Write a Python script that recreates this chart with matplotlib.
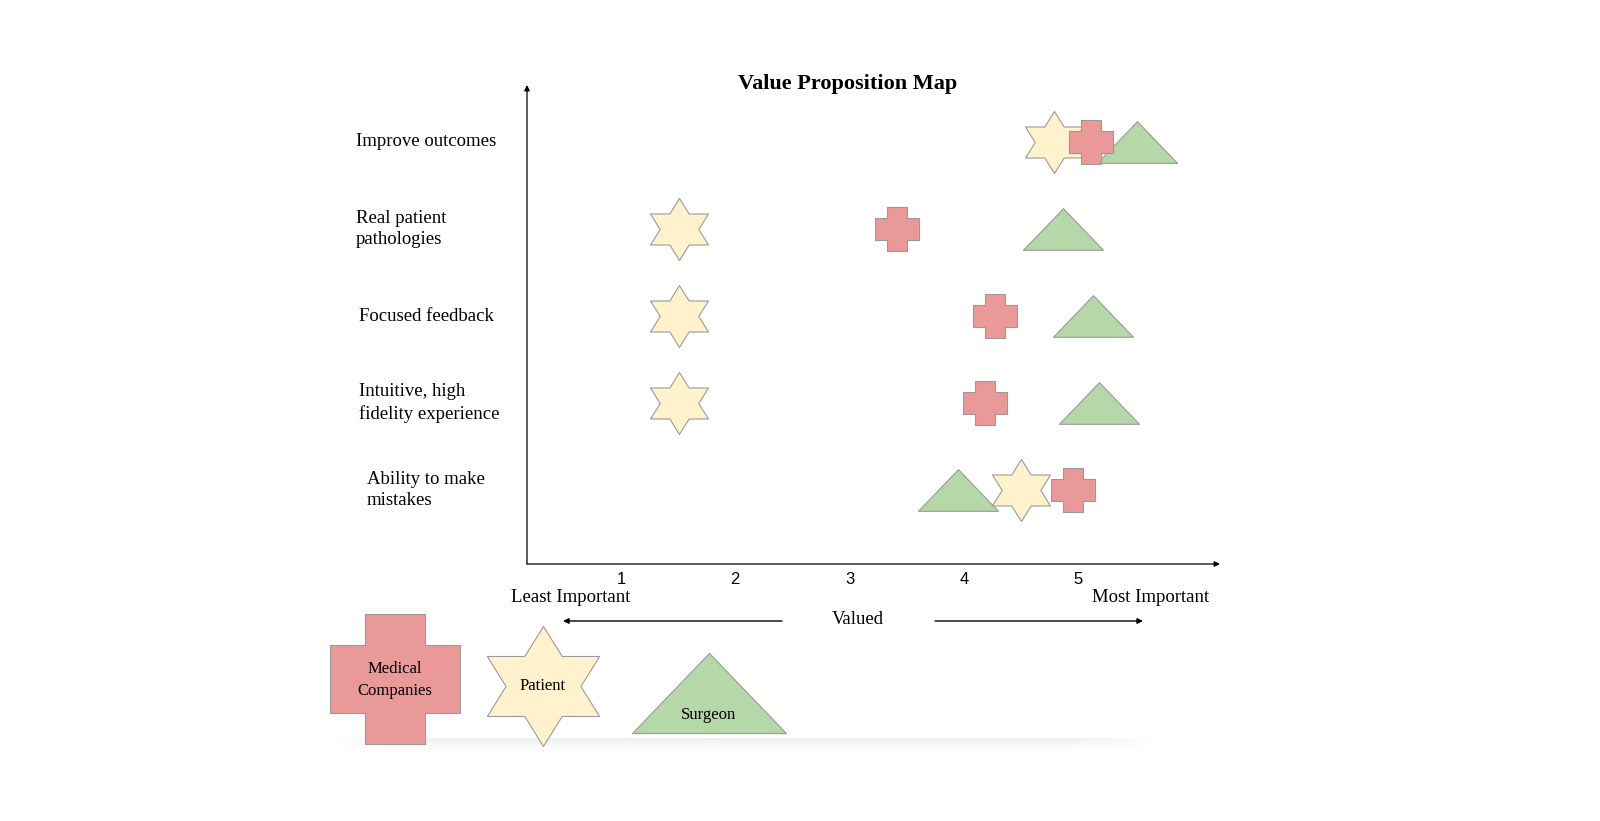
import numpy as np
import matplotlib.pyplot as plt
from matplotlib.path import Path
from matplotlib.transforms import blended_transform_factory

# Data
categories = ["Improve outcomes", "Real patient\npathologies", "Focused feedback",
              "Intuitive, high\nfidelity experience", "Ability to make\nmistakes"]
series = ["Medical\nCompanies", "Patient", "Surgeon"]
medical = [5.11, 3.42, 4.27, 4.19, 4.96]
patient = [4.79, 1.51, 1.51, 1.51, 4.50]
surgeon = [5.52, 4.87, 5.13, 5.18, 3.95]
ticks = [1, 2, 3, 4, 5]

serif = ["Liberation Serif", "DejaVu Serif"]
sans = ["Liberation Sans", "DejaVu Sans"]

# Marker shapes
ang = np.deg2rad(90 + np.arange(12) * 30)
rad = np.where(np.arange(12) % 2 == 0, 1.0, 1 / np.sqrt(3))
star_v = np.column_stack([1.08 * rad * np.cos(ang), rad * np.sin(ang)])
star = Path(np.vstack([star_v, star_v[:1]]), closed=True)
a, b = 0.46, 0.52
cross = Path([(-a, 1), (a, 1), (a, b), (1, b), (1, -b), (a, -b), (a, -1), (-a, -1),
              (-a, -b), (-1, -b), (-1, b), (-a, b), (-a, 1)], closed=True)
tri = Path([(-1, -0.52), (1, -0.52), (0, 0.52), (-1, -0.52)], closed=True)

c_med, c_pat, c_sur = "#ea9999", "#fff2cc", "#b6d7a8"
edge = "#9a9a9a"

fig = plt.figure(figsize=(16, 8.21), dpi=100)

# overlay in pixel coordinates for title, legend and the "Valued" scale
ov = fig.add_axes([0, 0, 1, 1])
ov.set_xlim(0, 1600)
ov.set_ylim(821, 0)
ov.axis("off")

ov.text(848, 84, "Value Proposition Map", ha="center", va="center",
        fontsize=16, fontweight="bold", family=serif)
ov.text(571, 598, "Least Important", ha="center", va="center", fontsize=13.5, family=serif)
ov.text(1151, 598, "Most Important", ha="center", va="center", fontsize=13.5, family=serif)
ov.text(858, 619, "Valued", ha="center", va="center", fontsize=13.5, family=serif)
ov.annotate("", xy=(563, 621), xytext=(782, 621),
            arrowprops=dict(arrowstyle="-|>", color="black", lw=1, mutation_scale=8,
                            shrinkA=0, shrinkB=0))
ov.annotate("", xy=(1143, 621), xytext=(935, 621),
            arrowprops=dict(arrowstyle="-|>", color="black", lw=1, mutation_scale=8,
                            shrinkA=0, shrinkB=0))

# soft shadow under the legend
gx = np.linspace(-1, 1, 300)
gy = np.linspace(0, 1, 20)
alpha = 0.10 * np.exp(-(gy[:, None] / 0.45) ** 2) * np.clip(1.6 - np.abs(gx[None, :]) ** 4 * 1.6, 0, 1)
shadow = np.zeros((20, 300, 4))
shadow[..., :3] = 0.45
shadow[..., 3] = alpha
ov.imshow(shadow, extent=(330, 1160, 756, 738), aspect="auto", zorder=0)

# legend shapes
ov.scatter([709], [693], marker=tri, s=(154 * 0.72) ** 2, color=c_sur, edgecolor=edge, lw=0.8, zorder=2)
ov.scatter([395], [679], marker=cross, s=(130 * 0.72) ** 2, color=c_med, edgecolor=edge, lw=0.8, zorder=2)
ov.scatter([543], [686], marker=star, s=(120 * 0.72) ** 2, color=c_pat, edgecolor=edge, lw=0.8, zorder=2)
ov.text(395, 680, series[0], ha="center", va="center", fontsize=12, family=serif, zorder=3,
        linespacing=1.45)
ov.text(543, 686, series[1], ha="center", va="center", fontsize=12, family=serif, zorder=3)
ov.text(709, 715, series[2], ha="center", va="center", fontsize=12, family=serif, zorder=3)

# main map
ax = fig.add_axes([527 / 1600, 1 - 564 / 821, (1220 - 527) / 1600, (564 - 85) / 821])
ax.patch.set_alpha(0)
rows = np.arange(len(categories))[::-1]
ax.set_xlim(0.177, 6.243)
ax.set_ylim(-0.85, 4.655)
for s in ax.spines.values():
    s.set_visible(False)
ax.annotate("", xy=(1, 0), xytext=(0, 0), xycoords="axes fraction",
            arrowprops=dict(arrowstyle="-|>", color="black", lw=0.9, mutation_scale=8,
                            shrinkA=0, shrinkB=0))
ax.annotate("", xy=(0, 1), xytext=(0, 0), xycoords="axes fraction",
            arrowprops=dict(arrowstyle="-|>", color="black", lw=0.9, mutation_scale=8,
                            shrinkA=0, shrinkB=0))
ax.set_xticks(ticks)
ax.set_xticklabels([str(t) for t in ticks], family=sans, fontsize=12)
ax.tick_params(axis="x", length=0, pad=6)
ax.set_yticks([])

ax.scatter(surgeon, rows, marker=tri, s=(80 * 0.72) ** 2, color=c_sur, edgecolor=edge, lw=0.8, zorder=2)
ax.scatter(patient, rows, marker=star, s=(62 * 0.72) ** 2, color=c_pat, edgecolor=edge, lw=0.8, zorder=3)
ax.scatter(medical, rows, marker=cross, s=(44 * 0.72) ** 2, color=c_med, edgecolor=edge, lw=0.8, zorder=4)

trans = blended_transform_factory(ax.transAxes, ax.transData)
label_dx = [-0.247, -0.247, -0.242, -0.242, -0.231]
for lab, r, dx in zip(categories, rows, label_dx):
    ax.text(dx, r, lab, transform=trans, ha="left", va="center", fontsize=13.5,
            family=serif, linespacing=1.35)

fig.savefig("out.png", dpi=100)
